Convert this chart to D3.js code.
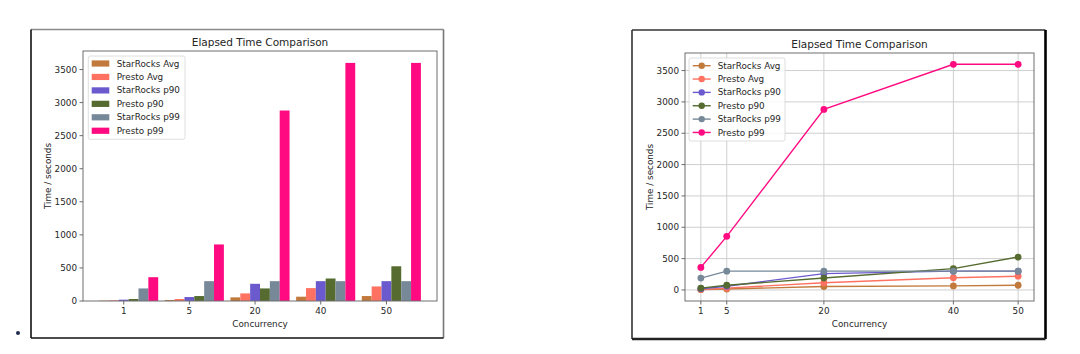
<!DOCTYPE html>
<html>
<head>
<meta charset="utf-8">
<script src="https://cdn.jsdelivr.net/npm/d3@7"></script>
<style>
  html, body { margin: 0; padding: 0; background: #fff; }
  svg { display: block; }
  text { font-family: "DejaVu Sans", sans-serif; fill: #262626; }
</style>
</head>
<body>
<svg id="chart" width="1080" height="354"></svg>
<script>
// ---------- data ----------
const categories = ["1", "5", "20", "40", "50"];
const concurrency = [1, 5, 20, 40, 50];
const seriesNames = ["StarRocks Avg", "Presto Avg", "StarRocks p90", "Presto p90", "StarRocks p99", "Presto p99"];
const starRocksAvg = [5, 15, 55, 65, 75];
const prestoAvg = [10, 30, 115, 195, 220];
const starRocksP90 = [20, 60, 260, 300, 300];
const prestoP90 = [30, 75, 190, 340, 525];
const starRocksP99 = [190, 300, 300, 300, 300];
const prestoP99 = [360, 855, 2880, 3600, 3600];
const yTicks = [0, 500, 1000, 1500, 2000, 2500, 3000, 3500];
const titleText = "Elapsed Time Comparison";
const xLabelText = "Concurrency";
const yLabelText = "Time / seconds";

const seriesValues = [starRocksAvg, prestoAvg, starRocksP90, prestoP90, starRocksP99, prestoP99];
const colors = ["#c27a3c", "#ff7262", "#6a5acd", "#556b2f", "#778899", "#ff0a80"];

const svg = d3.select("#chart");
svg.append("rect").attr("width", 1080).attr("height", 354).attr("fill", "#fff");

const FS = 8.8;

// bullet
svg.append("circle").attr("cx", 18).attr("cy", 333).attr("r", 2).attr("fill", "#1f2d4f");

function frame(x0, y0, x1, y1, cLT, wLT, cRB, wRB) {
  const g = svg.append("g");
  g.append("line").attr("x1", x0).attr("x2", x1).attr("y1", y0).attr("y2", y0).attr("stroke", cLT.top).attr("stroke-width", wLT);
  g.append("line").attr("x1", x0).attr("x2", x0).attr("y1", y0).attr("y2", y1).attr("stroke", cLT.left).attr("stroke-width", wLT);
  g.append("line").attr("x1", x1).attr("x2", x1).attr("y1", y0).attr("y2", y1).attr("stroke", cRB.right).attr("stroke-width", wRB);
  g.append("line").attr("x1", x0).attr("x2", x1).attr("y1", y1).attr("y2", y1).attr("stroke", cRB.bottom).attr("stroke-width", wRB);
}

function axesDecor(g, L, R, T, B, x, y, xTickVals, xTickLabels) {
  // y ticks
  yTicks.forEach(v => {
    const yy = y(v);
    g.append("line").attr("x1", L - 3.5).attr("x2", L).attr("y1", yy).attr("y2", yy).attr("stroke", "#444").attr("stroke-width", 0.8);
    g.append("text").attr("x", L - 6).attr("y", yy).attr("dy", "0.35em").attr("text-anchor", "end")
      .attr("font-size", FS).text(v);
  });
  xTickVals.forEach((v, i) => {
    const xx = x(v);
    g.append("line").attr("x1", xx).attr("x2", xx).attr("y1", B).attr("y2", B + 3.5).attr("stroke", "#444").attr("stroke-width", 0.8);
    g.append("text").attr("x", xx).attr("y", B + 13).attr("text-anchor", "middle")
      .attr("font-size", FS).text(xTickLabels[i]);
  });
  // spines
  g.append("rect").attr("x", L).attr("y", T).attr("width", R - L).attr("height", B - T)
    .attr("fill", "none").attr("stroke", "#6e6e6e").attr("stroke-width", 1);
  // title & labels
  const cx = (L + R) / 2;
  g.append("text").attr("x", cx).attr("y", T - 5).attr("text-anchor", "middle").attr("font-size", 10.5).text(titleText);
  g.append("text").attr("x", cx).attr("y", B + 25.5).attr("text-anchor", "middle").attr("font-size", FS).text(xLabelText);
  g.append("text").attr("transform", `translate(${L - 35},${(T + B) / 2}) rotate(-90)`)
    .attr("text-anchor", "middle").attr("dy", "0.35em").attr("font-size", FS).text(yLabelText);
}

// ================= Bar chart =================
frame(31, 29.5, 443.5, 338, {top: "#8a8a8a", left: "#111"}, 1.6, {right: "#777", bottom: "#111"}, 1.6);
{
  const L = 83, R = 437, T = 51, B = 301;
  const w = 0.15;
  const x = d3.scaleLinear().domain([-0.32, 5.07]).range([L, R]);
  const y = d3.scaleLinear().domain([0, 3780]).range([B, T]);
  const g = svg.append("g");
  seriesValues.forEach((vals, k) => {
    g.selectAll(null).data(vals).enter().append("rect")
      .attr("x", (d, i) => x(i + k * w - w / 2))
      .attr("width", (d, i) => x(i + k * w + w / 2) - x(i + k * w - w / 2))
      .attr("y", d => y(d))
      .attr("height", d => y(0) - y(d))
      .attr("fill", colors[k]);
  });
  axesDecor(g, L, R, T, B, x, y, categories.map((c, i) => i + 2 * w), categories);
  // legend
  const lg = g.append("g");
  lg.append("rect").attr("x", 88.3).attr("y", 56).attr("width", 96.7).attr("height", 83.3).attr("rx", 2)
    .attr("fill", "#fff").attr("fill-opacity", 0.85).attr("stroke", "#d6d6d6").attr("stroke-width", 0.8);
  seriesNames.forEach((n, k) => {
    const cy = 63.5 + k * 13.45;
    lg.append("rect").attr("x", 91.7).attr("y", cy - 3.1).attr("width", 17.6).attr("height", 6.2).attr("fill", colors[k]);
    lg.append("text").attr("x", 116.7).attr("y", cy).attr("dy", "0.35em").attr("font-size", FS).text(n);
  });
}

// ================= Line chart =================
frame(632, 30, 1045.5, 339, {top: "#333", left: "#333"}, 1.6, {right: "#000", bottom: "#222"}, 2.6);
{
  const L = 685, R = 1034, T = 53, B = 301;
  const x = d3.scaleLinear().domain([-1.45, 52.45]).range([L, R]);
  const y = d3.scaleLinear().domain([-176, 3780]).range([B, T]);
  const g = svg.append("g");
  // grid
  yTicks.forEach(v => {
    g.append("line").attr("x1", L).attr("x2", R).attr("y1", y(v)).attr("y2", y(v))
      .attr("stroke", "#cfcfcf").attr("stroke-width", 1);
  });
  concurrency.forEach(v => {
    g.append("line").attr("x1", x(v)).attr("x2", x(v)).attr("y1", T).attr("y2", B)
      .attr("stroke", "#cfcfcf").attr("stroke-width", 1);
  });
  const line = d3.line().x((d, i) => x(concurrency[i])).y(d => y(d));
  seriesValues.forEach((vals, k) => {
    g.append("path").attr("d", line(vals)).attr("fill", "none").attr("stroke", colors[k]).attr("stroke-width", 1.4);
    g.selectAll(null).data(vals).enter().append("circle")
      .attr("cx", (d, i) => x(concurrency[i])).attr("cy", d => y(d)).attr("r", 3.4).attr("fill", colors[k]);
  });
  axesDecor(g, L, R, T, B, x, y, concurrency, categories);
  // legend
  const lg = g.append("g");
  lg.append("rect").attr("x", 689).attr("y", 58).attr("width", 96).attr("height", 83).attr("rx", 2)
    .attr("fill", "#fff").attr("fill-opacity", 0.85).attr("stroke", "#d6d6d6").attr("stroke-width", 0.8);
  seriesNames.forEach((n, k) => {
    const cy = 65.7 + k * 13.35;
    lg.append("line").attr("x1", 692.7).attr("x2", 710.7).attr("y1", cy).attr("y2", cy)
      .attr("stroke", colors[k]).attr("stroke-width", 1.4);
    lg.append("circle").attr("cx", 701.7).attr("cy", cy).attr("r", 3.2).attr("fill", colors[k]);
    lg.append("text").attr("x", 717.7).attr("y", cy).attr("dy", "0.35em").attr("font-size", FS).text(n);
  });
}
</script>
</body>
</html>
